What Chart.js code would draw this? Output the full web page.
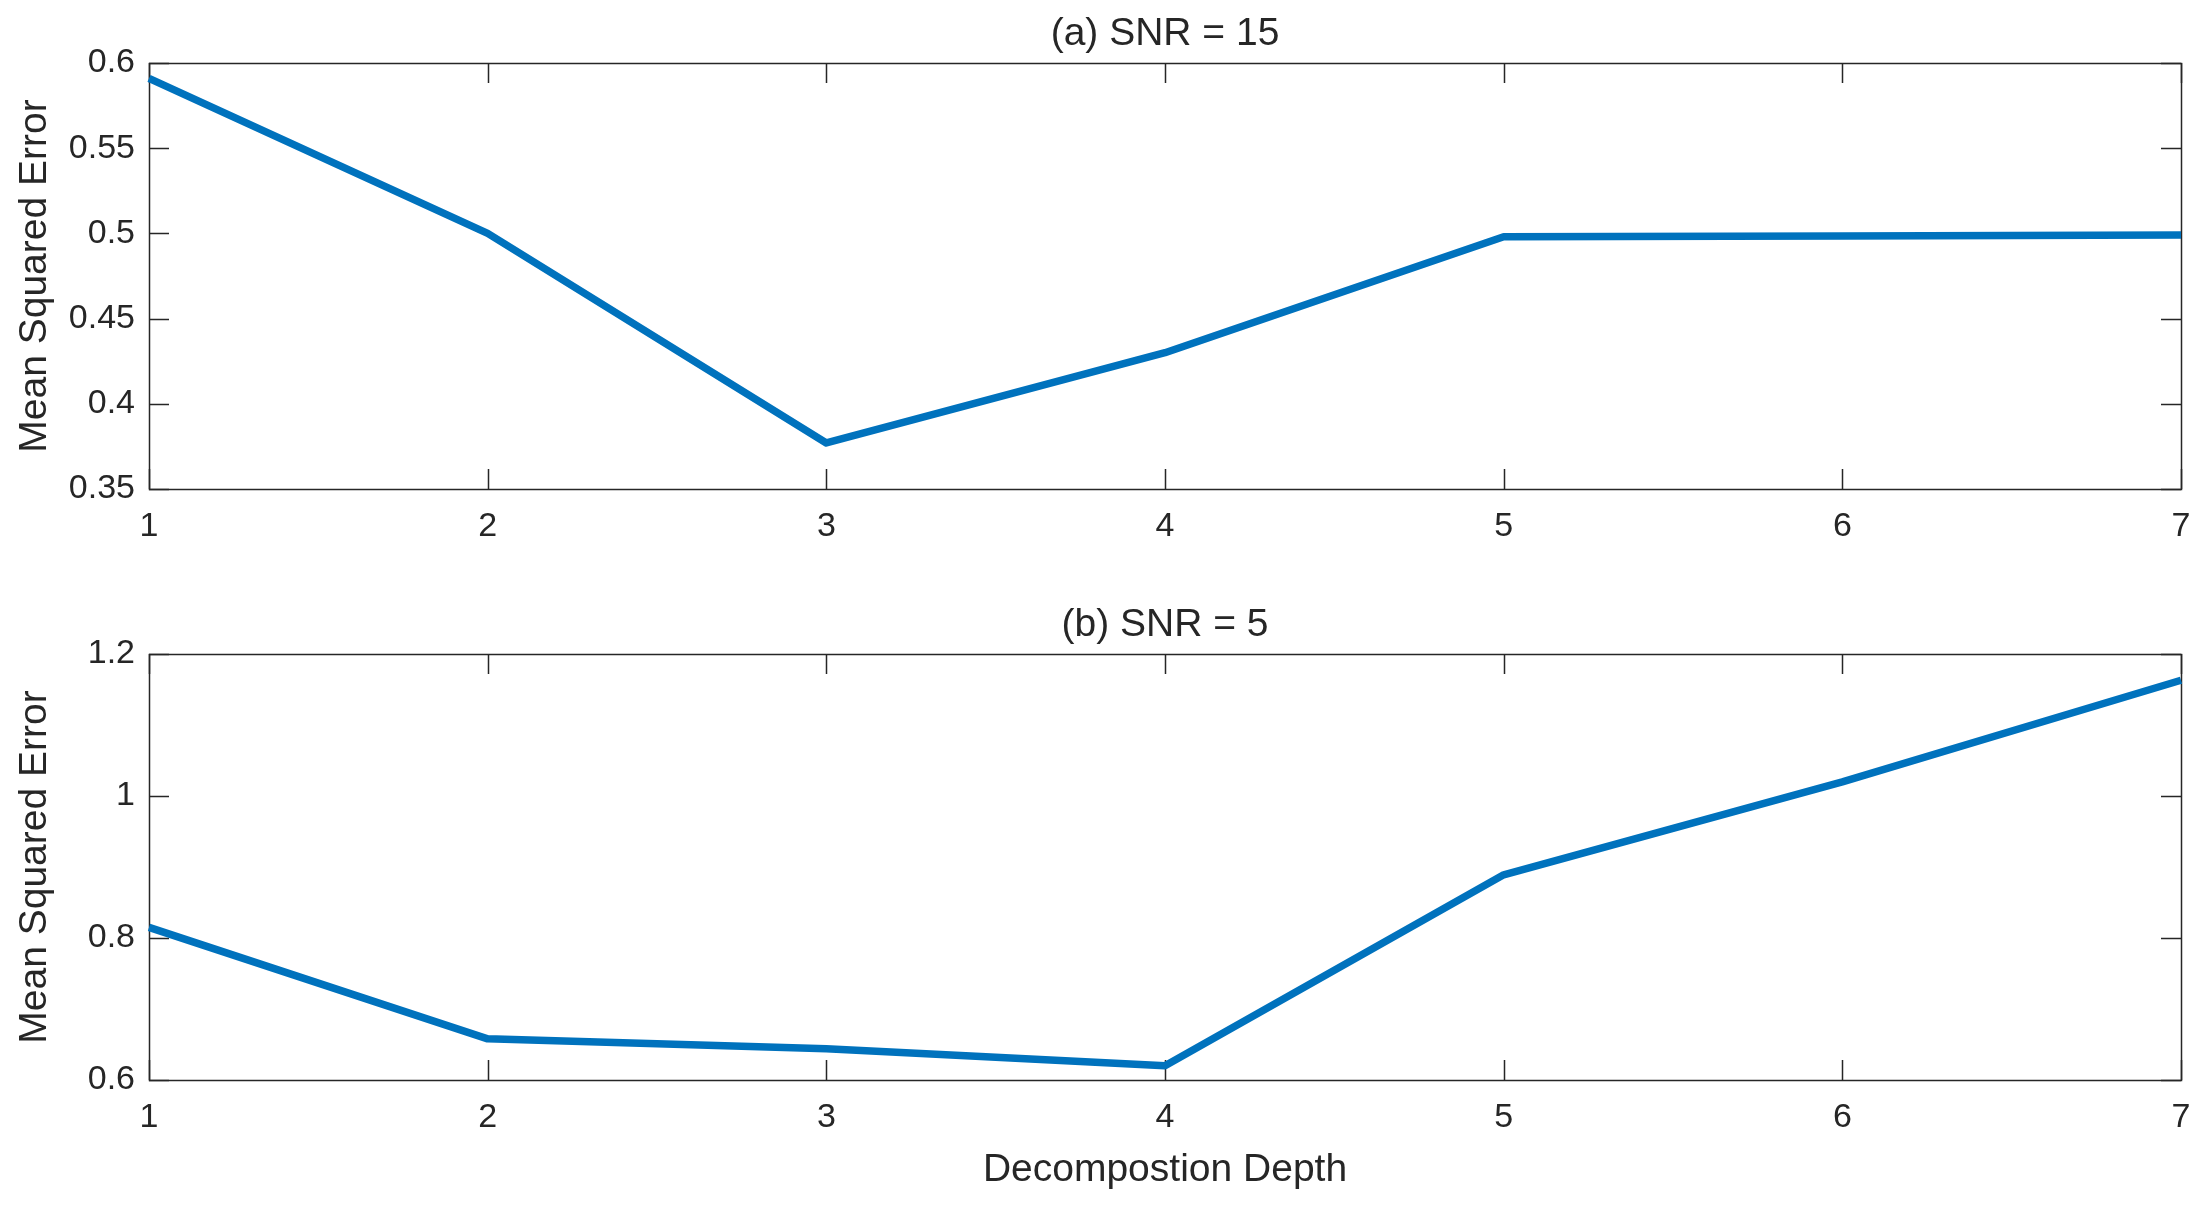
<!DOCTYPE html>
<html>
<head>
<meta charset="utf-8">
<script src="https://cdn.jsdelivr.net/npm/chart.js@4/dist/chart.umd.min.js"></script>
<style>
    html, body { margin: 0; padding: 0; background: #fff; }
    body { width: 2208px; height: 1211px; position: relative; overflow: hidden; }
    .box { position: absolute; left: 0; width: 2208px; }
    #boxA { top: 0; height: 591px; }
    #boxB { top: 591px; height: 620px; }
</style>
</head>
<body>
<div class="box" id="boxA"><canvas id="chartA"></canvas></div>
<div class="box" id="boxB"><canvas id="chartB"></canvas></div>
<script>

// Data
const depths = [1, 2, 3, 4, 5, 6, 7]
const mseSnr15 = [0.591, 0.500, 0.377, 0.430, 0.498, 0.4985, 0.499]
const mseSnr5 = [0.815, 0.658, 0.644, 0.620, 0.889, 1.020, 1.163]

const titles = ['(a) SNR = 15', '(b) SNR = 5']
const yLabel = 'Mean Squared Error'
const xLabel = 'Decompostion Depth'

// y ranges: [min, max, step]
const yRangeA = [0.35, 0.6, 0.05]
const yRangeB = [0.6, 1.2, 0.2]

const ink = '#262626'
const lineBlue = '#0072BD'
const fontFamily = '"Liberation Sans", Arial, Helvetica, sans-serif'

Chart.defaults.font.family = fontFamily
Chart.defaults.color = ink

// MATLAB style box with inward ticks on all four sides
const matlabBox = {
    id: 'matlabBox',
    beforeDatasetsDraw(chart) {
        const { ctx, chartArea: a, scales } = chart
        const len = 20

        ctx.save()
        ctx.strokeStyle = ink
        ctx.lineWidth = 1.5
        ctx.beginPath()

        // x ticks, bottom and top
        for (const t of scales.x.ticks) {
            const px = Math.round(scales.x.getPixelForValue(t.value)) + 0.5
            ctx.moveTo(px, a.bottom); ctx.lineTo(px, a.bottom - len)
            ctx.moveTo(px, a.top); ctx.lineTo(px, a.top + len)
        }

        // y ticks, left and right
        for (const t of scales.y.ticks) {
            const py = Math.round(scales.y.getPixelForValue(t.value)) + 0.5
            ctx.moveTo(a.left, py); ctx.lineTo(a.left + len, py)
            ctx.moveTo(a.right, py); ctx.lineTo(a.right - len, py)
        }
        ctx.stroke()

        ctx.strokeRect(a.left + 0.5, a.top + 0.5, a.right - a.left, a.bottom - a.top)
        ctx.restore()
    }
}

const fmt = v => String(+v.toFixed(2))

// Create one panel
const createChart = (id, title, values, yRange, xAxisHeight, withXLabel) => {
    const [yMin, yMax, yStep] = yRange
    const data = depths.map((d, i) => ({ x: d, y: values[i] }))

    return new Chart(document.getElementById(id), {
        type: 'line',
        data: {
            datasets: [{
                data,
                borderColor: lineBlue,
                borderWidth: 7.5,
                borderJoinStyle: 'round',
                pointRadius: 0,
                tension: 0,
                clip: 6
            }]
        },
        options: {
            responsive: true,
            maintainAspectRatio: false,
            devicePixelRatio: 1,
            animation: false,
            events: [],
            layout: { padding: { left: 0, right: 27, top: 0, bottom: 0 } },
            plugins: {
                legend: { display: false },
                tooltip: { enabled: false },
                title: {
                    display: true,
                    fullSize: false,
                    text: title,
                    color: ink,
                    font: { size: 39, weight: 'normal', lineHeight: 1.2 },
                    padding: { top: 11, bottom: 5.2 }
                }
            },
            scales: {
                x: {
                    type: 'linear',
                    min: 1,
                    max: 7,
                    grid: { display: false, drawTicks: false },
                    border: { display: false },
                    ticks: {
                        stepSize: 1,
                        padding: 17,
                        color: ink,
                        font: { size: 34 },
                        maxRotation: 0,
                        autoSkip: false
                    },
                    title: {
                        display: withXLabel,
                        text: xLabel,
                        color: ink,
                        font: { size: 39, lineHeight: 1.2 },
                        padding: { top: 0, bottom: 17 }
                    },
                    afterFit: s => { s.height = xAxisHeight }
                },
                y: {
                    min: yMin,
                    max: yMax,
                    grid: { display: false, drawTicks: false },
                    border: { display: false },
                    ticks: {
                        stepSize: yStep,
                        padding: 14,
                        color: ink,
                        font: { size: 34 },
                        callback: fmt
                    },
                    title: {
                        display: true,
                        text: yLabel,
                        color: ink,
                        font: { size: 39, lineHeight: 1.2 },
                        padding: { top: 12, bottom: 0 }
                    },
                    afterFit: s => { s.width = 149 }
                }
            }
        },
        plugins: [matlabBox]
    })
}

createChart('chartA', titles[0], mseSnr15, yRangeA, 102, false)
createChart('chartB', titles[1], mseSnr5, yRangeB, 131, true)
</script>
</body>
</html>
